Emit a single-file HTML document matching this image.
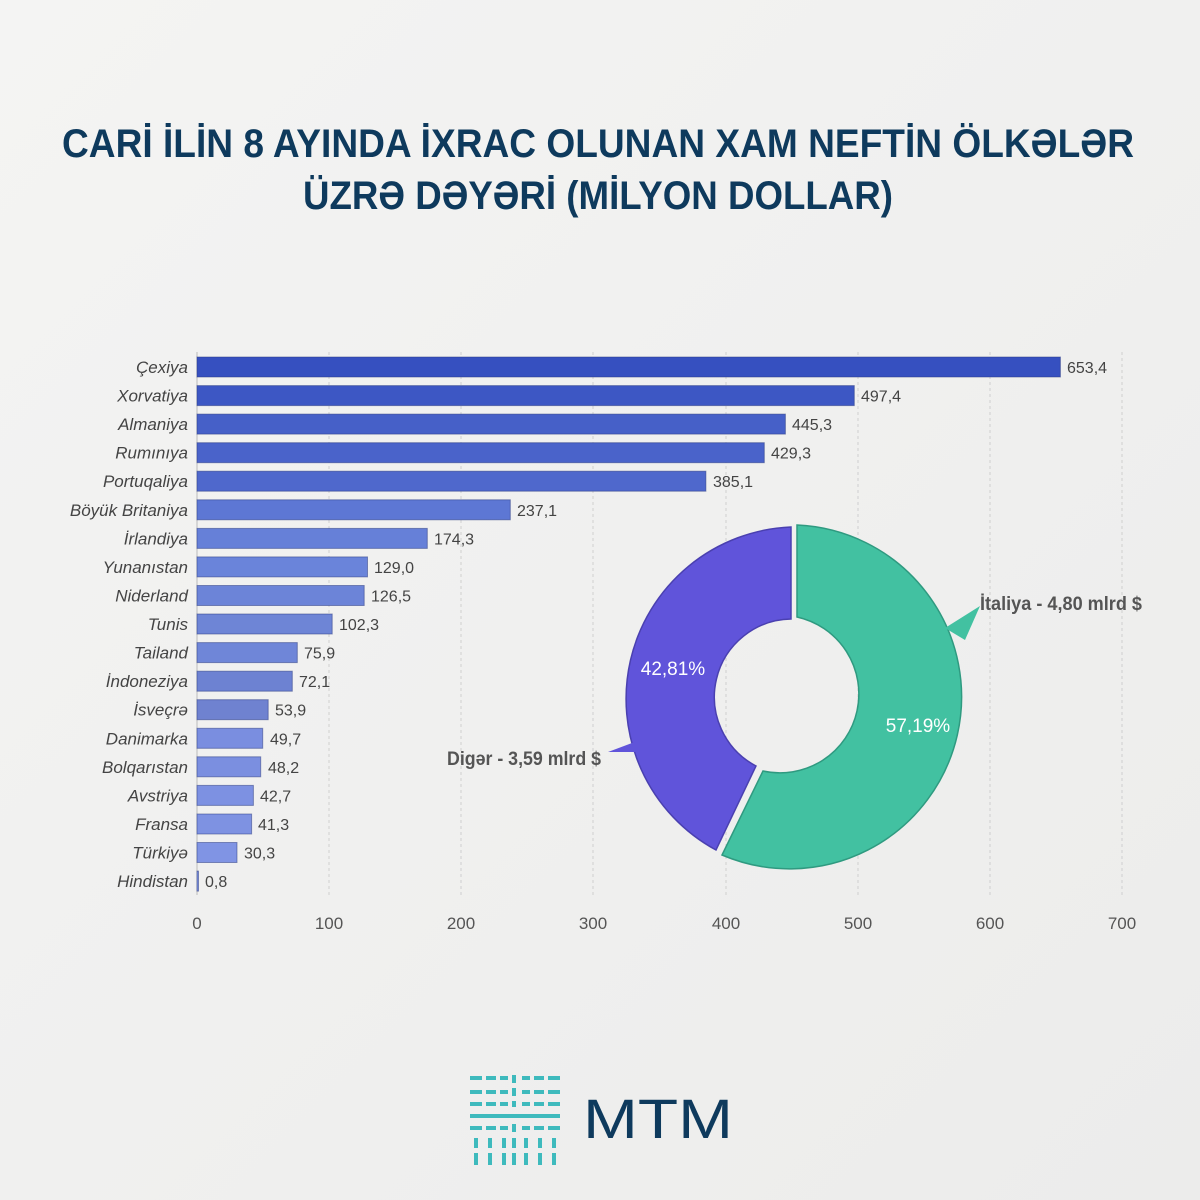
<!DOCTYPE html>
<html><head><meta charset="utf-8"><style>
html,body{margin:0;padding:0;background:#f1f1f0;}
svg{display:block}
</style></head><body>
<svg width="1200" height="1200" viewBox="0 0 1200 1200" xmlns="http://www.w3.org/2000/svg" font-family="Liberation Sans, DejaVu Sans, sans-serif">
<defs>
<linearGradient id="bg" x1="0" y1="0" x2="1" y2="1"><stop offset="0" stop-color="#f4f4f3"/><stop offset="1" stop-color="#ececeb"/></linearGradient>
</defs>
<rect width="1200" height="1200" fill="url(#bg)"/>
<text x="598" y="157" text-anchor="middle" font-size="40" font-weight="bold" fill="#0e3a5d" textLength="1072" lengthAdjust="spacingAndGlyphs">CARİ İLİN 8 AYINDA İXRAC OLUNAN XAM NEFTİN ÖLKƏLƏR</text>
<text x="598" y="209" text-anchor="middle" font-size="40" font-weight="bold" fill="#0e3a5d" textLength="590" lengthAdjust="spacingAndGlyphs">ÜZRƏ DƏYƏRİ (MİLYON DOLLAR)</text>
<g stroke="#cfcfcf" stroke-dasharray="3,3" stroke-width="1">
<line x1="329" y1="352" x2="329" y2="895"/><line x1="461" y1="352" x2="461" y2="895"/><line x1="593" y1="352" x2="593" y2="895"/><line x1="726" y1="352" x2="726" y2="895"/><line x1="858" y1="352" x2="858" y2="895"/><line x1="990" y1="352" x2="990" y2="895"/><line x1="1122" y1="352" x2="1122" y2="895"/>
</g>
<line x1="197" y1="352" x2="197" y2="895" stroke="#bbb"/>
<g font-size="17" fill="#555" text-anchor="middle">
<text x="197" y="929">0</text><text x="329" y="929">100</text><text x="461" y="929">200</text><text x="593" y="929">300</text><text x="726" y="929">400</text><text x="858" y="929">500</text><text x="990" y="929">600</text><text x="1122" y="929">700</text>
</g>
<g stroke="#2a3a80" stroke-opacity="0.5" stroke-width="1">
<rect x="197" y="357" width="863.4" height="20" fill="#3650c0"/>
<rect x="197" y="385.6" width="657.3" height="20" fill="#3d57c4"/>
<rect x="197" y="414.1" width="588.4" height="20" fill="#4660c8"/>
<rect x="197" y="442.7" width="567.3" height="20" fill="#4a63ca"/>
<rect x="197" y="471.2" width="508.9" height="20" fill="#4f68cc"/>
<rect x="197" y="499.8" width="313.3" height="20" fill="#5d77d4"/>
<rect x="197" y="528.4" width="230.3" height="20" fill="#6680d8"/>
<rect x="197" y="556.9" width="170.5" height="20" fill="#6a84da"/>
<rect x="197" y="585.5" width="167.2" height="20" fill="#6c84d8"/>
<rect x="197" y="614" width="135.2" height="20" fill="#6e85d6"/>
<rect x="197" y="642.6" width="100.3" height="20" fill="#6f86d8"/>
<rect x="197" y="671.2" width="95.3" height="20" fill="#6d82d2"/>
<rect x="197" y="699.7" width="71.2" height="20" fill="#6f82d0"/>
<rect x="197" y="728.3" width="65.7" height="20" fill="#7a8ee0"/>
<rect x="197" y="756.8" width="63.7" height="20" fill="#7b8fe0"/>
<rect x="197" y="785.4" width="56.4" height="20" fill="#7d91e2"/>
<rect x="197" y="814" width="54.6" height="20" fill="#7e92e2"/>
<rect x="197" y="842.5" width="40" height="20" fill="#8094e4"/>
<rect x="197" y="871.1" width="1.5" height="20" fill="#8094e4"/>
</g>
<g font-size="17" fill="#444" font-style="italic" text-anchor="end">
<text x="188" y="373">Çexiya</text><text x="188" y="401.6">Xorvatiya</text><text x="188" y="430.1">Almaniya</text><text x="188" y="458.7">Rumınıya</text><text x="188" y="487.2">Portuqaliya</text><text x="188" y="515.8">Böyük Britaniya</text><text x="188" y="544.4">İrlandiya</text><text x="188" y="572.9">Yunanıstan</text><text x="188" y="601.5">Niderland</text><text x="188" y="630">Tunis</text><text x="188" y="658.6">Tailand</text><text x="188" y="687.2">İndoneziya</text><text x="188" y="715.7">İsveçrə</text><text x="188" y="744.3">Danimarka</text><text x="188" y="772.8">Bolqarıstan</text><text x="188" y="801.4">Avstriya</text><text x="188" y="830">Fransa</text><text x="188" y="858.5">Türkiyə</text><text x="188" y="887.1">Hindistan</text>
</g>
<g font-size="16" fill="#444">
<text x="1067" y="373">653,4</text><text x="861" y="401.6">497,4</text><text x="792" y="430.1">445,3</text><text x="771" y="458.7">429,3</text><text x="713" y="487.2">385,1</text><text x="517" y="515.8">237,1</text><text x="434" y="544.4">174,3</text><text x="374" y="572.9">129,0</text><text x="371" y="601.5">126,5</text><text x="339" y="630">102,3</text><text x="304" y="658.6">75,9</text><text x="299" y="687.2">72,1</text><text x="275" y="715.7">53,9</text><text x="270" y="744.3">49,7</text><text x="268" y="772.8">48,2</text><text x="260" y="801.4">42,7</text><text x="258" y="830">41,3</text><text x="244" y="858.5">30,3</text><text x="205" y="887.1">0,8</text>
</g>
<!-- donut -->
<path d="M797,525 A172,172 0 1 1 722,855 L763,771 A78,78 0 1 0 797,617 Z" fill="#42c1a1" stroke="#2f9a80" stroke-width="1.5"/>
<path d="M791,527 L791,619 A78,78 0 0 0 756,766 L716,850 A172,172 0 0 1 791,527 Z" fill="#6054da" stroke="#4a40b0" stroke-width="1.5"/>
<path d="M945,628 L980,606 L965,640 Z" fill="#42c1a1"/>
<path d="M640,740 L608,752 L640,752 Z" fill="#6054da"/>
<text x="918" y="732" text-anchor="middle" font-size="19" fill="#fff">57,19%</text>
<text x="673" y="675" text-anchor="middle" font-size="19" fill="#fff">42,81%</text>
<text x="980" y="610" font-size="19" font-weight="bold" fill="#555" textLength="162" lengthAdjust="spacingAndGlyphs">İtaliya - 4,80 mlrd $</text>
<text x="447" y="765" font-size="19" font-weight="bold" fill="#555" textLength="154" lengthAdjust="spacingAndGlyphs">Digər - 3,59 mlrd $</text>
<!-- logo -->
<g fill="#2bb5b8">
<rect x="470" y="1074" width="92" height="92" fill="none"/>
<g opacity="0.9">
<rect x="470" y="1076" width="12" height="4"/><rect x="486" y="1076" width="10" height="4"/><rect x="500" y="1076" width="8" height="4"/><rect x="512" y="1075" width="4" height="8"/><rect x="522" y="1076" width="8" height="4"/><rect x="534" y="1076" width="10" height="4"/><rect x="548" y="1076" width="12" height="4"/>
<rect x="470" y="1090" width="12" height="4"/><rect x="486" y="1090" width="10" height="4"/><rect x="500" y="1090" width="8" height="4"/><rect x="512" y="1088" width="4" height="8"/><rect x="522" y="1090" width="8" height="4"/><rect x="534" y="1090" width="10" height="4"/><rect x="548" y="1090" width="12" height="4"/>
<rect x="470" y="1102" width="12" height="4"/><rect x="486" y="1102" width="10" height="4"/><rect x="500" y="1102" width="8" height="4"/><rect x="512" y="1101" width="4" height="6"/><rect x="522" y="1102" width="8" height="4"/><rect x="534" y="1102" width="10" height="4"/><rect x="548" y="1102" width="12" height="4"/>
<rect x="470" y="1114" width="90" height="4"/>
<rect x="470" y="1126" width="12" height="4"/><rect x="486" y="1126" width="10" height="4"/><rect x="500" y="1126" width="8" height="4"/><rect x="512" y="1124" width="4" height="8"/><rect x="522" y="1126" width="8" height="4"/><rect x="534" y="1126" width="10" height="4"/><rect x="548" y="1126" width="12" height="4"/>
<rect x="474" y="1138" width="4" height="10"/><rect x="488" y="1138" width="4" height="10"/><rect x="502" y="1138" width="4" height="10"/><rect x="512" y="1138" width="4" height="10"/><rect x="524" y="1138" width="4" height="10"/><rect x="538" y="1138" width="4" height="10"/><rect x="552" y="1138" width="4" height="10"/>
<rect x="474" y="1153" width="4" height="12"/><rect x="488" y="1153" width="4" height="12"/><rect x="502" y="1153" width="4" height="12"/><rect x="512" y="1153" width="4" height="12"/><rect x="524" y="1153" width="4" height="12"/><rect x="538" y="1153" width="4" height="12"/><rect x="552" y="1153" width="4" height="12"/>
</g>
</g>
<text x="583" y="1138" font-size="56" fill="#0e3a5d" textLength="150" lengthAdjust="spacingAndGlyphs">MTM</text>
</svg>
</body></html>
